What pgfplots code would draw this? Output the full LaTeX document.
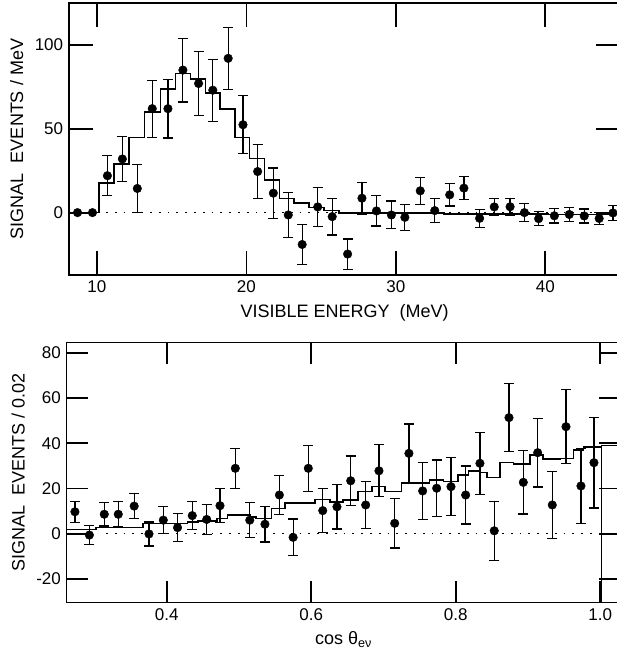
\documentclass[border=0pt]{standalone}
\usepackage{fontspec}
\setmainfont{Liberation Sans}
\usepackage{pgfplots}
\pgfplotsset{compat=1.18}
\begin{document}
\fontsize{17}{20}\selectfont
\begin{tikzpicture}
\pgfplotsset{
  myax/.style={scale only axis, anchor=south west,
    axis line style={line width=1.4pt},
    /pgf/number format/assume math mode=true,
    tick label style={font=\fontsize{17}{20}\selectfont},
    label style={font=\fontsize{18}{21}\selectfont},
    minor tick num=0},
  pts/.style={only marks, mark=*, mark size=4.3pt, black,
    error bars/.cd, y dir=both, y explicit,
    error bar style={line width=1.2pt, black},
    error mark options={rotate=90, mark size=5pt, line width=1.2pt, black}},
}
% ---------------- top panel ----------------
\begin{axis}[myax, at={(69pt,382pt)}, width=551.1pt, height=272pt,
  xmin=8.13, xmax=45, ymin=-37.2, ymax=125,
  xtick={10,20,30,40}, ytick={0,50,100},
  xtick pos=both, ytick pos=both, tick align=inside,
  major tick length=24pt, every tick/.append style={black, line width=1.8pt},
  xlabel={VISIBLE ENERGY\ \ (MeV)}, ylabel={SIGNAL\ \ EVENTS / MeV}]
\addplot[black, line width=1.3pt, dash pattern=on 1.8pt off 7pt] coordinates {(10.6,0) (45,0)};
\addplot[const plot, black, line width=1.6pt] coordinates {
(8.13,0) (10.13,17.6) (11.16,29) (12.16,44.8) (13.19,60) (14.26,73.7) (15.26,83)
(16.27,79.7) (17.27,71.4) (18.25,61.8) (19.25,44.8) (20.2,32.3) (21.2,19.5)
(22.2,8.4) (23.2,5.6) (24.2,3.0) (25.2,1.2) (26.2,-0.3) (33.2,-0.8) (40.2,-1.2) (45,-1.4)};
\addplot[only marks, mark=*, mark size=4.3pt, black] coordinates {(8.7,0) (9.7,0)};
\addplot[pts] coordinates {
(10.7,22) +- (0,12)
(11.7,32) +- (0,13.5)
(12.7,14.4) +- (0,14.5)
(13.7,62) +- (0,17)
(14.75,62) +- (0,17.5)
(15.75,85) +- (0,19)
(16.8,77) +- (0,19)
(17.75,73) +- (0,18.5)
(18.78,92) +- (0,18.5)
(19.77,52.4) +- (0,17.3)
(20.75,24.5) +- (0,16)
(21.8,11.6) +- (0,15)
(22.8,-1.4) +- (0,13.6)
(23.73,-19) +- (0,12)
(24.77,3.4) +- (0,11.8)
(25.74,-2.4) +- (0,11)
(26.77,-24.7) +- (0,9)
(27.73,8.6) +- (0,9.5)
(28.7,1) +- (0,9)
(29.7,-1.4) +- (0,8.3)
(30.6,-2.8) +- (0,7.7)
(31.63,13) +- (0,8)
(32.6,1.2) +- (0,7)
(33.6,10.6) +- (0,6.7)
(34.55,14.6) +- (0,7)
(35.6,-3.4) +- (0,5.4)
(36.58,3.4) +- (0,5.2)
(37.64,3.5) +- (0,5)
(38.6,0) +- (0,5.2)
(39.55,-3.6) +- (0,4.2)
(40.6,-1.9) +- (0,4.3)
(41.6,-1.1) +- (0,4)
(42.6,-2) +- (0,4.2)
(43.6,-3.5) +- (0,3.6)
(44.52,-0.2) +- (0,4.3)
};
\end{axis}
% ---------------- bottom panel ----------------
\begin{axis}[myax, at={(66.7pt,54.7pt)}, width=553.7pt, height=259.6pt,
  xmin=0.2616, xmax=1.028, ymin=-30.3, ymax=84.4,
  xtick={0.4,0.6,0.8,1.0}, ytick={-20,0,20,40,60,80},
  xtick pos=both, ytick pos=both, tick align=inside,
  major tick length=21pt, every tick/.append style={black, line width=1.8pt},
  xticklabel style={/pgf/number format/.cd, fixed, fixed zerofill, precision=1},
  xlabel={cos θ\textsubscript{eν}}, ylabel={SIGNAL\ \ EVENTS / 0.02}]
\addplot[black, line width=1.3pt, dash pattern=on 1.8pt off 7pt] coordinates {(0.316,0) (1.03,0)};
\addplot[black, line width=1.6pt] coordinates {(0.2616,0) (0.275,0)};
\addplot[const plot, black, line width=1.6pt] coordinates {
(0.2616,1.9) (0.302,2.8) (0.367,4.6) (0.429,5.3) (0.443,5.7) (0.470,6.8) (0.484,8.3)
(0.515,7.5) (0.524,6.8) (0.545,11.2) (0.564,13.7) (0.605,15.2) (0.626,14.1)
(0.644,14.9) (0.665,18.6) (0.684,20.8) (0.702,18.6) (0.725,22.3) (0.764,23.7)
(0.783,23.0) (0.8036,25.9) (0.8175,27.8) (0.8336,27.0) (0.843,24.9) (0.861,31.4)
(0.88,30.7) (0.903,34.8) (0.921,32.9) (0.944,33.3) (0.963,37.0) (0.977,38.2)
(1.002,38.9) (1.03,38.9)};
\addplot[black, line width=1.6pt] coordinates {(1.002,-40) (1.002,38.9)};
\addplot[pts] coordinates {
(0.273,9.7) +- (0,4.6)
(0.293,-0.6) +- (0,4.3)
(0.3136,8.6) +- (0,5.2)
(0.333,8.6) +- (0,5.6)
(0.355,12.2) +- (0,5.5)
(0.3755,-0.1) +- (0,5.3)
(0.3953,6) +- (0,5.9)
(0.415,2.7) +- (0,6.2)
(0.4354,8) +- (0,6.2)
(0.4554,6.3) +- (0,6.6)
(0.4738,12.4) +- (0,7.5)
(0.495,28.9) +- (0,8.9)
(0.515,6) +- (0,7.7)
(0.536,4.2) +- (0,7.9)
(0.556,17.1) +- (0,8.7)
(0.575,-1.6) +- (0,8.1)
(0.596,28.9) +- (0,10.2)
(0.616,10.2) +- (0,9.7)
(0.6357,11.9) +- (0,9.8)
(0.6547,23.4) +- (0,10.9)
(0.6754,12.7) +- (0,10.5)
(0.6938,27.8) +- (0,11.5)
(0.7156,4.6) +- (0,10.9)
(0.7353,35.5) +- (0,13)
(0.7543,18.9) +- (0,12.5)
(0.7737,20.1) +- (0,12.5)
(0.7935,20.8) +- (0,12.7)
(0.8138,17.1) +- (0,12.8)
(0.8336,31.1) +- (0,13.7)
(0.8534,1.3) +- (0,13)
(0.8738,51.3) +- (0,15)
(0.8936,22.7) +- (0,14)
(0.9135,35.8) +- (0,15.2)
(0.9337,12.7) +- (0,14.7)
(0.9527,47.3) +- (0,16.4)
(0.9734,21.1) +- (0,16.5)
(0.9914,31.4) +- (0,20)
};
\end{axis}
\pgfresetboundingbox
\path[use as bounding box] (0pt,0pt) rectangle (617pt,657pt);
\end{tikzpicture}
\end{document}
